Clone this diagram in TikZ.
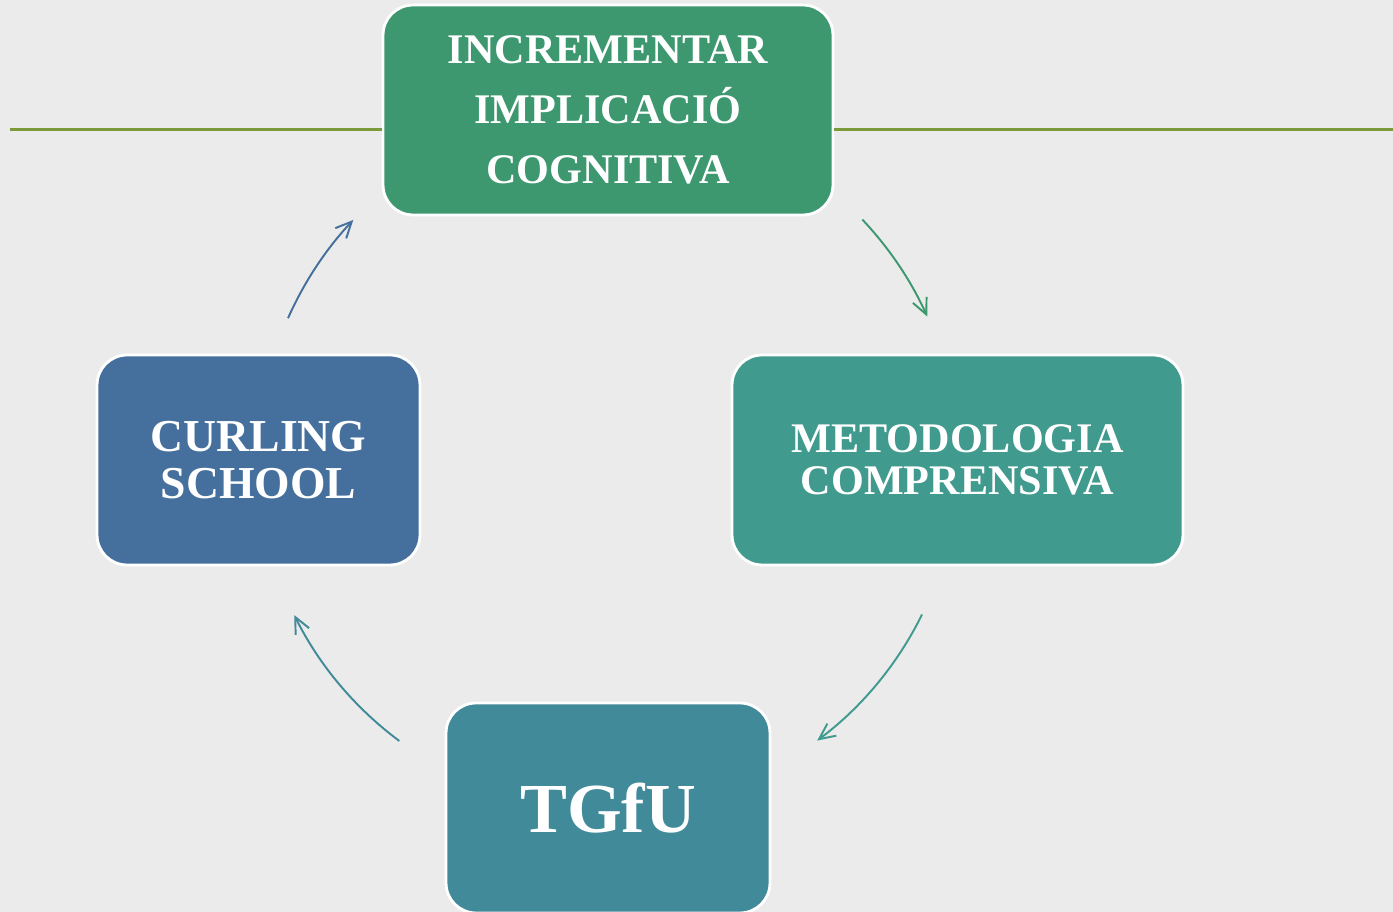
\documentclass[tikz,border=0pt]{standalone}
\usepackage{fontspec}
\setmainfont{Liberation Serif}
\usetikzlibrary{arrows.meta}
\definecolor{bggray}{HTML}{EBEBEB}
\definecolor{topgreen}{HTML}{3D9870}
\definecolor{rightteal}{HTML}{409A8E}
\definecolor{bottomteal}{HTML}{418A99}
\definecolor{leftblue}{HTML}{456F9C}
\definecolor{olive}{HTML}{7D9A3B}

\begin{document}
\begin{tikzpicture}[x=0.02cm,y=0.02cm,
    box/.style={draw=white, line width=1.6pt, rounded corners=0.6cm, text=white,
        align=center, minimum height=4.2cm, inner sep=0pt},
    cyc/.style={->, >={Straight Barb[length=0.32cm,width=0.3cm]}, line width=1.1pt}]
        \clip (0,0) rectangle (1393,912);
        \fill[bggray] (0,0) rectangle (1393,912);

        \coordinate (C) at (608,452);
        \coordinate (L) at (10,782);
        \coordinate (R) at (1393,782);

        \node[box, fill=topgreen, minimum width=9cm,
            font=\bfseries\fontsize{24}{34}\selectfont] (incr) at (608,802)
            {INCREMENTAR\\IMPLICACIÓ\\COGNITIVA};
        \node[box, fill=rightteal, minimum width=9.02cm,
            font=\bfseries\fontsize{24}{24}\selectfont] (meto) at (957.5,452)
            {METODOLOGIA\\COMPRENSIVA};
        \node[box, fill=bottomteal, minimum width=6.48cm,
            font=\bfseries\fontsize{40}{40}\selectfont] (tgfu) at (608,104) {TGfU};
        \node[box, fill=leftblue, minimum width=6.46cm,
            font=\bfseries\fontsize{26}{27}\selectfont] (curl) at (258.5,452)
            {CURLING\\SCHOOL};

        \draw[olive, line width=1.7pt] (L)--(L -| incr.west) (R -| incr.east)--(R);

        \coordinate (A) at ([shift={(43.4:350)}]C);
        \coordinate (B) at ([shift={(-26.2:350)}]C);
        \coordinate (D) at ([shift={(-126.6:350)}]C);
        \coordinate (E) at ([shift={(156.1:350)}]C);

        \draw[cyc, topgreen] (A) arc[start angle=43.4, end angle=24.2, radius=7cm];
        \draw[cyc, rightteal] (B) arc[start angle=-26.2, end angle=-53.3, radius=7cm];
        \draw[cyc, bottomteal] (D) arc[start angle=-126.6, end angle=-153.7, radius=7cm];
        \draw[cyc, leftblue] (E) arc[start angle=156.1, end angle=136.7, radius=7cm];

    \end{tikzpicture}
\end{document}
